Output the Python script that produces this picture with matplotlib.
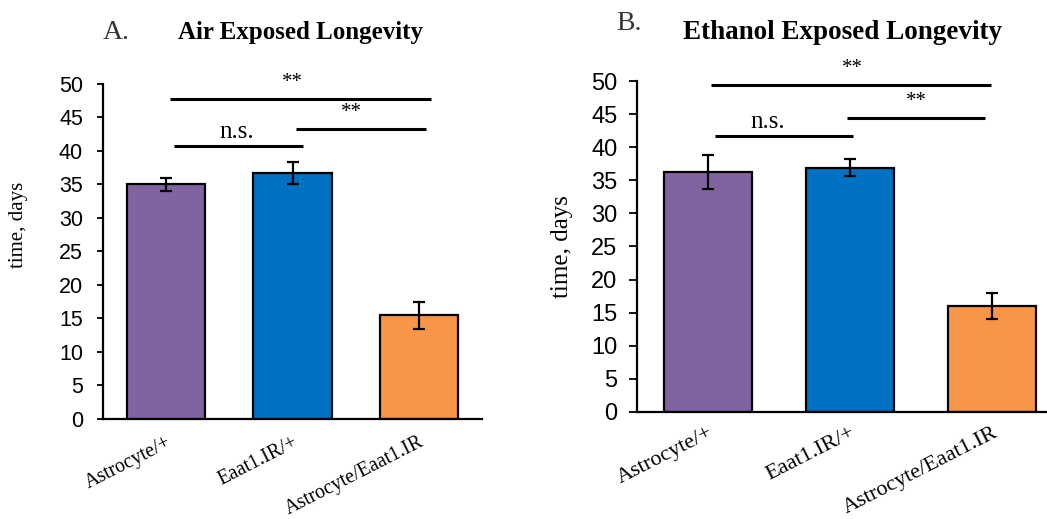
import matplotlib
matplotlib.use("Agg")
import matplotlib.pyplot as plt

categories = ["Astrocyte/+", "Eaat1.IR/+", "Astrocyte/Eaat1.IR"]
air_values = [35.0, 36.7, 15.5]
air_errors = [0.9, 1.7, 2.0]
eth_values = [36.25, 36.9, 16.0]
eth_errors = [2.6, 1.3, 1.9]
colors = ["#8064A2", "#0070C0", "#F79646"]
yticks = [0, 5, 10, 15, 20, 25, 30, 35, 40, 45, 50]

serif = ["Liberation Serif", "DejaVu Serif"]
sans = ["Liberation Sans", "DejaVu Sans"]

fig = plt.figure(figsize=(10.47, 5.19), dpi=100)
axA = fig.add_axes([0.0984, 0.1927, 0.3620, 0.6455])
axB = fig.add_axes([0.6084, 0.2062, 0.4069, 0.6377])

def draw(ax, vals, errs, width, tick_fs, xlab_fs, ylab_fs, tick_len, tick_pad, xpad, lab_xy):
    x = list(range(len(categories)))
    ax.bar(x, vals, width=width, color=colors, edgecolor="black", linewidth=1.6, zorder=2)
    ax.errorbar(x, vals, yerr=errs, fmt="none", ecolor="black", elinewidth=1.6,
                capsize=4, capthick=1.6, zorder=3)
    ax.set_xlim(-0.5, 2.5)
    ax.set_ylim(0, 50)
    ax.set_yticks(yticks)
    ax.set_yticklabels([str(t) for t in yticks], family=sans, fontsize=tick_fs)
    ax.set_xticks(x)
    ax.set_xticklabels(categories, family=serif, fontsize=xlab_fs, rotation=27,
                       ha="right", rotation_mode="anchor")
    ax.tick_params(axis="x", length=0, pad=xpad)
    ax.tick_params(axis="y", length=tick_len, width=1.3, direction="out", pad=tick_pad)
    for s in ["top", "right"]:
        ax.spines[s].set_visible(False)
    for s in ["left", "bottom"]:
        ax.spines[s].set_linewidth(1.6)
    ax.set_ylabel("time, days", family=serif, fontsize=ylab_fs)
    ax.yaxis.set_label_coords(*lab_xy)

draw(axA, air_values, air_errors, 0.62, 15.5, 14.3, 15, 4.5, 10, 10, (-0.198, 0.579))
draw(axB, eth_values, eth_errors, 0.625, 17, 16.0, 18, 6, 8, 8, (-0.150, 0.50))

def sig(ax, x0, x1, y, text, tx, dy, fs):
    ax.plot([x0, x1], [y, y], color="black", lw=2.2, clip_on=False, solid_capstyle="butt")
    ax.text(tx, y + dy, text, family=serif, fontsize=fs, ha="center", va="bottom")

# panel A
sig(axA, 0.03, 2.095, 47.8, "**", 1.0, 1.0, 15)
sig(axA, 1.03, 2.055, 43.3, "**", 1.47, 1.0, 15)
sig(axA, 0.06, 1.08, 40.7, "n.s.", 0.56, 0.5, 18)
# panel B
sig(axB, 0.02, 1.99, 49.4, "**", 1.02, 1.0, 15)
sig(axB, 0.98, 1.95, 44.4, "**", 1.47, 1.0, 15)
sig(axB, 0.05, 1.02, 41.7, "n.s.", 0.42, 0.5, 18)

fig.text(0.098, 0.938, "A.", family=serif, fontsize=20, ha="left", va="center", color="#333333")
fig.text(0.170, 0.938, "Air Exposed Longevity", family=serif, fontsize=18, fontweight="bold",
         ha="left", va="center")
fig.text(0.589, 0.955, "B.", family=serif, fontsize=20, ha="left", va="center", color="#333333")
fig.text(0.652, 0.938, "Ethanol Exposed Longevity", family=serif, fontsize=19.5, fontweight="bold",
         ha="left", va="center")

fig.savefig("out.png", dpi=100)
